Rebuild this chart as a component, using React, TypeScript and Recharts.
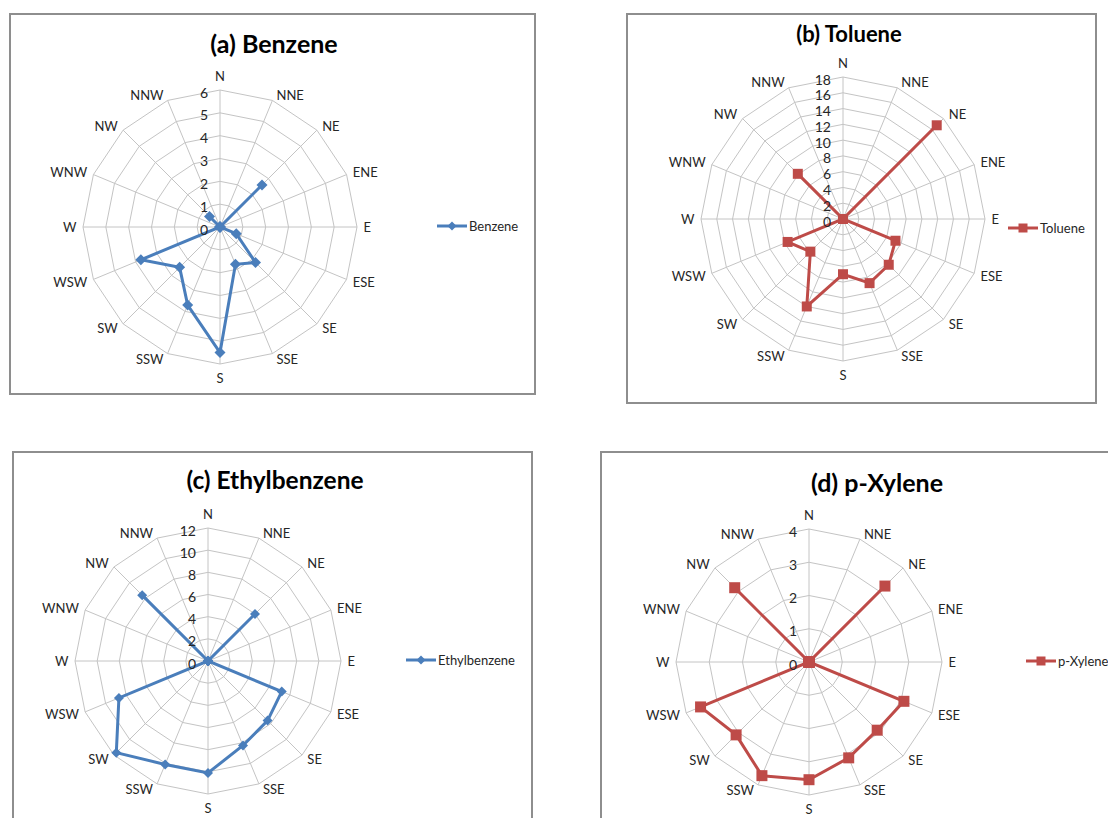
import React from "react";
import { RadarChart, Radar, PolarGrid, PolarAngleAxis, PolarRadiusAxis, Legend } from "recharts";

// wind sectors, clockwise from north
const directions = ["N", "NNE", "NE", "ENE", "E", "ESE", "SE", "SSE", "S", "SSW", "SW", "WSW", "W", "WNW", "NW", "NNW"];

const benzene = [0, 0, 2.6, 0, 0, 0.77, 2.2, 1.77, 5.5, 3.7, 2.5, 3.75, 0, 0, 0.65, 0];
const toluene = [0, 0, 16.8, 0, 0, 7.2, 8.2, 8.8, 7.0, 12.0, 5.85, 7.6, 0, 0, 8.1, 0];
const ethylbenzene = [0, 0, 6.0, 0, 0, 7.2, 7.6, 8.25, 10.1, 10.1, 11.7, 8.7, 0, 0, 8.4, 0];
const pXylene = [0, 0, 3.23, 0, 0, 3.09, 2.9, 3.12, 3.54, 3.7, 3.1, 3.53, 0, 0, 3.16, 0];

const benzeneTicks = [0, 1, 2, 3, 4, 5, 6];
const tolueneTicks = [0, 2, 4, 6, 8, 10, 12, 14, 16, 18];
const ethylbenzeneTicks = [0, 2, 4, 6, 8, 10, 12];
const pXyleneTicks = [0, 1, 2, 3, 4];

const BLUE = "#4a7ebb";
const RED = "#be4b48";
const FONT = "Lato, 'Liberation Sans', sans-serif";
const TEXT = "#262626";
const GRID = "#c4c4c4";

type Marker = "diamond" | "square";

interface PanelProps {
  title: string;
  name: string;
  values: number[];
  ticks: number[];
  color: string;
  marker: Marker;
  markerSize: number;
  left: number;
  top: number;
  width: number;
  height: number;
  cx: number;
  cy: number;
  radius: number;
  titleX: number;
  titleY: number;
  titleSize: number;
  legendX: number;
  legendY: number;
}

const markerPath = (x: number, y: number, marker: Marker, s: number) =>
  marker === "diamond"
    ? `M${x},${y - s}L${x + s},${y}L${x},${y + s}L${x - s},${y}Z`
    : `M${x - s},${y - s}H${x + s}V${y + s}H${x - s}Z`;

const angleTick = (props: any) => {
  const { x, y, payload } = props;
  const a = (payload.coordinate * Math.PI) / 180;
  const ux = Math.cos(a);
  const uy = -Math.sin(a);
  const vx = x - ux;
  const vy = y - uy;
  let tx = vx;
  let ty = vy + uy * 14;
  let anchor: "start" | "middle" | "end" = "middle";
  if (Math.abs(ux) > 0.01) {
    anchor = ux > 0 ? "start" : "end";
    tx = vx + Math.sign(ux) * (2.5 + 4 * Math.abs(ux));
    ty = vy + uy * 6;
  }
  return (
    <text x={tx} y={ty} textAnchor={anchor} dominantBaseline="central" fontSize={13} fontFamily={FONT} fill={TEXT}>
      {payload.value}
    </text>
  );
};

const radiusTick = (props: any) => {
  const { x, y, payload } = props;
  return (
    <text x={x - 12} y={y + 2} textAnchor="end" dominantBaseline="central" fontSize={14} fontFamily={FONT} fill={TEXT}>
      {payload.value}
    </text>
  );
};

const Panel: React.FC<PanelProps> = (p) => {
  const data = directions.map((dir, i) => ({ dir, value: p.values[i] }));
  const dot = (props: any) => (
    <path
      key={`dot-${props.index}`}
      d={markerPath(props.cx, props.cy, p.marker, p.markerSize)}
      fill={p.color}
      stroke="none"
    />
  );
  const legend = () => (
    <svg width={120} height={18} style={{ overflow: "visible" }}>
      <line x1={0} y1={9} x2={30} y2={9} stroke={p.color} strokeWidth={3} />
      <path d={markerPath(15, 9, p.marker, 4.5)} fill={p.color} />
      <text x={32} y={9} dominantBaseline="central" fontSize={13} fontFamily={FONT} fill={TEXT}>
        {p.name}
      </text>
    </svg>
  );
  return (
    <div
      style={{
        position: "absolute",
        left: p.left,
        top: p.top,
        width: p.width,
        height: p.height,
        border: "2px solid #8e8e8e",
        boxSizing: "border-box",
        background: "#fff",
      }}
    >
      <div
        style={{
          position: "absolute",
          left: p.titleX - 150,
          top: p.titleY - p.titleSize * 0.65,
          width: 300,
          textAlign: "center",
          fontFamily: FONT,
          fontWeight: 700,
          fontSize: p.titleSize,
          color: "#000",
          lineHeight: 1.2,
        }}
      >
        {p.title}
      </div>
      <div style={{ position: "absolute", left: -2, top: -2 }}>
        <RadarChart
          width={p.width}
          height={p.height}
          data={data}
          cx={p.cx}
          cy={p.cy}
          outerRadius={p.radius}
          margin={{ top: 0, right: 0, bottom: 0, left: 0 }}
        >
          <PolarGrid gridType="polygon" stroke={GRID} strokeWidth={1} />
          <PolarAngleAxis dataKey="dir" tick={angleTick} tickLine={false} tickSize={1} axisLine={false} />
          <PolarRadiusAxis
            angle={90}
            domain={[p.ticks[0], p.ticks[p.ticks.length - 1]]}
            ticks={p.ticks as any}
            tickCount={p.ticks.length}
            tick={radiusTick}
            axisLine={false}
            tickLine={false}
          />
          <Radar
            name={p.name}
            dataKey="value"
            stroke={p.color}
            strokeWidth={3}
            fill="none"
            fillOpacity={0}
            dot={dot}
            isAnimationActive={false}
          />
          <Legend
            content={legend}
            wrapperStyle={{ position: "absolute", left: p.legendX, top: p.legendY - 9, right: "auto", width: 120 }}
          />
        </RadarChart>
      </div>
    </div>
  );
};

const App: React.FC = () => (
  <div style={{ position: "absolute", left: 0, top: 0, width: 1108, height: 818, overflow: "hidden", background: "#fff" }}>
    <Panel
      title="(a) Benzene"
      name="Benzene"
      values={benzene}
      ticks={benzeneTicks}
      color={BLUE}
      marker="diamond"
      markerSize={5.5}
      left={9}
      top={13}
      width={527}
      height={382}
      cx={211}
      cy={214}
      radius={137}
      titleX={263}
      titleY={29}
      titleSize={25}
      legendX={428}
      legendY={213}
    />
    <Panel
      title="(b) Toluene"
      name="Toluene"
      values={toluene}
      ticks={tolueneTicks}
      color={RED}
      marker="square"
      markerSize={5}
      left={626}
      top={13}
      width={471}
      height={391}
      cx={217}
      cy={206}
      radius={142}
      titleX={221}
      titleY={20}
      titleSize={22}
      legendX={382}
      legendY={215}
    />
    <Panel
      title="(c) Ethylbenzene"
      name="Ethylbenzene"
      values={ethylbenzene}
      ticks={ethylbenzeneTicks}
      color={BLUE}
      marker="diamond"
      markerSize={5}
      left={12}
      top={451}
      width={521}
      height={390}
      cx={196}
      cy={210}
      radius={133}
      titleX={261}
      titleY={28}
      titleSize={24.5}
      legendX={394}
      legendY={209}
    />
    <Panel
      title="(d) p-Xylene"
      name="p-Xylene"
      values={pXylene}
      ticks={pXyleneTicks}
      color={RED}
      marker="square"
      markerSize={5.5}
      left={600}
      top={451}
      width={540}
      height={390}
      cx={209}
      cy={211}
      radius={133}
      titleX={275}
      titleY={30}
      titleSize={25}
      legendX={426}
      legendY={210}
    />
  </div>
);

export default App;
